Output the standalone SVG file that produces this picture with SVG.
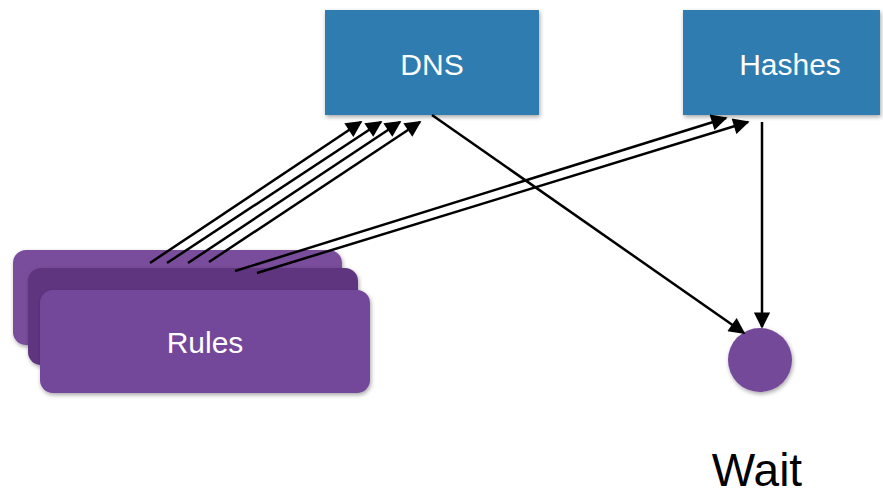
<svg xmlns="http://www.w3.org/2000/svg" width="883" height="496" viewBox="0 0 883 496">
<style>
.box{fill:#2e7bb0}
.lbl{font-family:"Liberation Sans","Helvetica",sans-serif;fill:#ffffff;font-size:30px;text-anchor:middle}
.edge{stroke:#000;stroke-width:2.5;fill:none;marker-end:url(#ah)}
</style>
<defs>
<marker id="ah" viewBox="0 0 10 10" refX="9" refY="5" markerWidth="7" markerHeight="6.5" orient="auto" markerUnits="strokeWidth">
<path d="M0,0 L10,5 L0,10 z" fill="#000"/>
</marker>
<filter id="sh" x="-10%" y="-20%" width="120%" height="150%">
<feDropShadow dx="1" dy="2" stdDeviation="2" flood-color="#000" flood-opacity="0.35"/>
</filter>
</defs>
<g id="dns">
<rect class="box" x="325" y="10" width="214" height="105" filter="url(#sh)"/>
<text class="lbl" x="432" y="75">DNS</text>
</g>
<g id="hashes">
<rect class="box" x="683" y="10" width="197" height="105" filter="url(#sh)"/>
<text class="lbl" x="790" y="75">Hashes</text>
</g>
<g id="rules">
<rect x="13" y="250" width="329" height="95" rx="13" fill="#7a4e9c" filter="url(#sh)"/>
<rect x="28" y="268" width="330" height="97" rx="13" fill="#5f3580" filter="url(#sh)"/>
<rect x="40" y="290" width="330" height="103" rx="13" fill="#73479a" filter="url(#sh)"/>
<text class="lbl" x="205" y="353">Rules</text>
</g>
<g id="wait">
<circle cx="760" cy="360" r="32" fill="#74489a" filter="url(#sh)"/>
<text x="757" y="486" font-family="Liberation Sans, Helvetica, sans-serif" font-size="46" fill="#000" text-anchor="middle">Wait</text>
</g>
<g id="connectors">
<line class="edge" x1="150" y1="263" x2="361" y2="122"/>
<line class="edge" x1="167" y1="263" x2="381" y2="122"/>
<line class="edge" x1="188" y1="263" x2="400" y2="122"/>
<line class="edge" x1="209" y1="262" x2="420" y2="122"/>
<line class="edge" x1="235" y1="271" x2="726" y2="118"/>
<line class="edge" x1="257" y1="273" x2="748" y2="122"/>
<line class="edge" x1="432" y1="115" x2="744" y2="333"/>
<line class="edge" x1="762" y1="122" x2="762" y2="327"/>
</g>
</svg>
